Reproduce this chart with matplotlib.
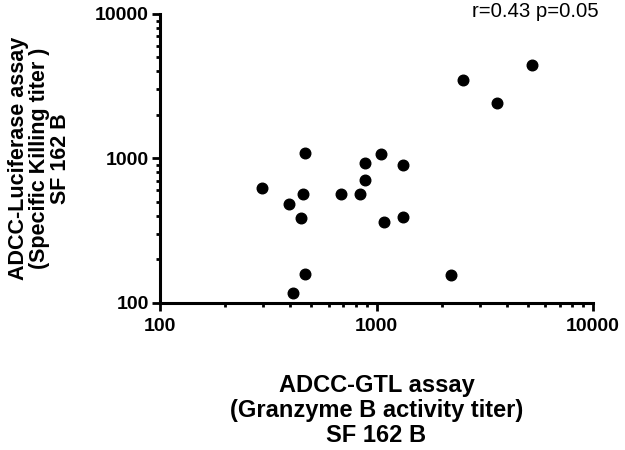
import numpy as np
import matplotlib.pyplot as plt
from matplotlib.ticker import LogLocator, FixedFormatter, FixedLocator, NullFormatter

plt.rcParams['font.family'] = ['Liberation Sans', 'DejaVu Sans']

# Granzyme B activity titer (x) vs specific killing titer (y)
gtl_titer = [296, 395, 459, 469, 449, 469, 413, 682, 838, 883, 887,
             1052, 1084, 1318, 1328, 2218, 2494, 3581, 5222]
luc_titer = [624, 481, 570, 1084, 389, 158, 117, 570, 570, 933, 713,
             1067, 363, 896, 393, 155, 3477, 2428, 4438]

ticks = [100, 1000, 10000]
tick_labels = ['100', '1000', '10000']

fig = plt.figure(figsize=(6.25, 4.5), dpi=100)
ax = fig.add_axes([0.256, 0.327, 0.693, 0.642])

ax.scatter(gtl_titer, luc_titer, s=58, color='black', zorder=3, clip_on=False)

ax.set_xscale('log')
ax.set_yscale('log')
ax.set_xlim(100, 10000)
ax.set_ylim(100, 10000)

for axis in (ax.xaxis, ax.yaxis):
    axis.set_major_locator(FixedLocator(ticks))
    axis.set_major_formatter(FixedFormatter(tick_labels))
    axis.set_minor_locator(LogLocator(base=10, subs=np.arange(2, 10)))
    axis.set_minor_formatter(NullFormatter())

for side in ('top', 'right'):
    ax.spines[side].set_visible(False)
for side in ('left', 'bottom'):
    ax.spines[side].set_linewidth(2.2)

ax.tick_params(which='major', length=6, width=2, labelsize=14)
ax.tick_params(which='minor', length=3.2, width=2)
ax.tick_params(axis='x', which='major', pad=5)
ax.tick_params(axis='y', which='major', pad=2)
for lbl in ax.get_xticklabels() + ax.get_yticklabels():
    lbl.set_fontweight('bold')

ax.set_xlabel('ADCC-GTL assay\n(Granzyme B activity titer)\nSF 162 B',
              fontsize=17, fontweight='bold', linespacing=1.1, labelpad=28)
ax.set_ylabel('ADCC-Luciferase assay\n(Specific Killing titer )\nSF 162 B',
              fontsize=15.5, fontweight='bold', linespacing=1.0, labelpad=17)

ax.text(1.012, 0.99, 'r=0.43 p=0.05', transform=ax.transAxes,
        ha='right', va='baseline', fontsize=14.7)

fig.savefig('out.png', dpi=100)
